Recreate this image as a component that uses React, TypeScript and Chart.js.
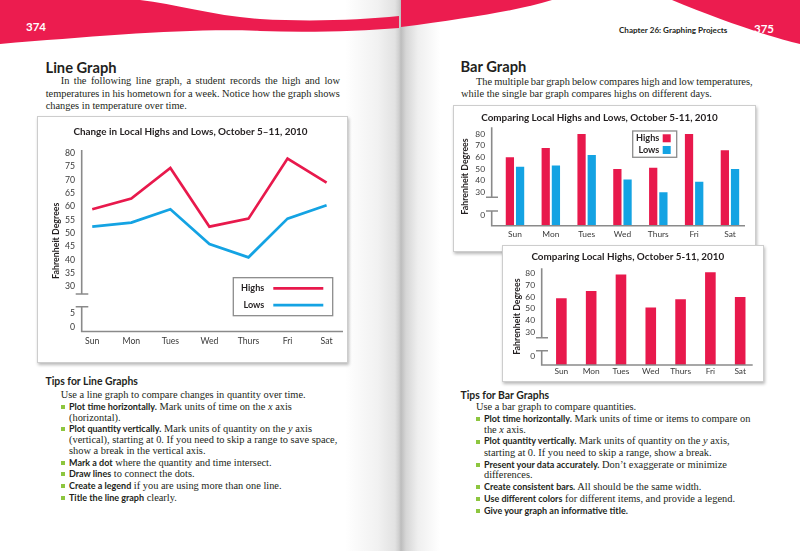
import React, { useEffect, useRef } from 'react';
import { Chart, registerables } from 'chart.js';

Chart.register(...registerables);

// ---------- data ----------
const days = ['Sun', 'Mon', 'Tues', 'Wed', 'Thurs', 'Fri', 'Sat'];
const seriesNames = ['Highs', 'Lows'];
const lineHighs = [59, 63, 74.5, 52.5, 55.5, 78, 69];
const lineLows = [52.5, 54, 59, 46, 41, 55.5, 60.5];
const lineTickLabels = [0, 5, 30, 35, 40, 45, 50, 55, 60, 65, 70, 75, 80];
const barHighs = [60, 68, 80, 50, 51, 80, 66];
const barLows = [52, 53, 62, 41, 30, 39, 50];
const singleHighs = [59, 65, 79, 51, 58, 81, 60];
const barTickLabels = [0, 30, 40, 50, 60, 70, 80];

// ---------- styles ----------
const PINK = '#e8194c';
const BLUE = '#14a3e3';
const WAVE = '#ec1c4f';
const INK = '#231f20';
const TICK = '#3a3a3a';
const AXIS = '#8a8a8a';
const GREEN = '#8dc63f';
const SANS = 'Lato, "Open Sans", sans-serif';
const SERIF = '"Liberation Serif", "Times New Roman", serif';

// axis break: values between lo and hi are squeezed into `shown` units
function makeBreak(lo: number, hi: number, shown: number) {
  return (v: number) =>
    v <= lo ? v : v >= hi ? v - (hi - lo - shown) : lo + ((v - lo) * shown) / (hi - lo);
}
const lineMap = makeBreak(5, 30, 10);
const barMap = makeBreak(0, 30, 20);

const axisBreakPlugin = {
  id: 'axisBreak',
  afterDatasetsDraw(chart: any, _args: any, o: any) {
    if (!o || o.upper === undefined) return;
    const { ctx, chartArea: a, scales } = chart;
    const hi = scales.y.getPixelForValue(o.upper);
    const lo = scales.y.getPixelForValue(o.lower);
    ctx.save();
    ctx.strokeStyle = o.color;
    ctx.lineWidth = o.width;
    ctx.beginPath();
    ctx.moveTo(a.left, a.top);
    ctx.lineTo(a.left, hi);
    ctx.moveTo(a.left, lo);
    ctx.lineTo(a.left, a.bottom);
    ctx.moveTo(a.left - o.width / 2, a.bottom);
    ctx.lineTo(a.right, a.bottom);
    ctx.moveTo(a.left - o.markLeft, hi);
    ctx.lineTo(a.left + o.markRight, hi);
    ctx.moveTo(a.left - o.markLeft, lo);
    ctx.lineTo(a.left + o.markRight, lo);
    ctx.stroke();
    ctx.restore();
  },
};

const boxLegendPlugin = {
  id: 'boxLegend',
  afterDraw(chart: any, _args: any, o: any) {
    if (!o || o.w === undefined) return;
    const { ctx, chartArea: a } = chart;
    const x0 = a.left + o.x;
    const y0 = a.top + o.y;
    ctx.save();
    ctx.fillStyle = '#ffffff';
    ctx.fillRect(x0, y0, o.w, o.h);
    ctx.strokeStyle = '#8c8c8c';
    ctx.lineWidth = 1.3;
    ctx.strokeRect(x0, y0, o.w, o.h);
    ctx.font = `bold ${o.font}px ${SANS}`;
    ctx.textAlign = 'right';
    ctx.textBaseline = 'middle';
    chart.data.datasets.forEach((ds: any, i: number) => {
      const ry = y0 + o.rows[i];
      ctx.fillStyle = INK;
      ctx.fillText(ds.label, x0 + o.textRight, ry);
      if (o.kind === 'line') {
        ctx.strokeStyle = ds.borderColor;
        ctx.lineWidth = ds.borderWidth;
        ctx.beginPath();
        ctx.moveTo(x0 + o.sx, ry);
        ctx.lineTo(x0 + o.sx + o.sw, ry);
        ctx.stroke();
      } else {
        ctx.fillStyle = ds.backgroundColor;
        ctx.fillRect(x0 + o.sx, ry - o.sw / 2, o.sw, o.sw);
      }
    });
    ctx.restore();
  },
};

function dayTicks(scale: any) {
  scale.ticks = days.map((_, i) => ({ value: i }));
}

function baseScales(opts: any) {
  const tickFont = { family: SANS, size: opts.tickSize };
  return {
    x: {
      type: 'linear',
      offset: false,
      min: opts.xMin,
      max: opts.xMax,
      grid: { display: false, drawTicks: false },
      border: { display: false },
      afterBuildTicks: dayTicks,
      afterFit: (s: any) => {
        s.height = opts.xHeight;
      },
      ticks: {
        autoSkip: false,
        maxRotation: 0,
        padding: opts.xPad,
        color: TICK,
        font: tickFont,
        callback: (_v: any, i: number) => days[i],
      },
    },
    y: {
      type: 'linear',
      min: opts.yMin,
      max: opts.yMax,
      grid: { display: false, drawTicks: false },
      border: { display: false },
      afterBuildTicks: (s: any) => {
        s.ticks = opts.tickLabels.map((v: number) => ({ value: opts.map(v) }));
      },
      afterFit: (s: any) => {
        s.width = opts.yWidth;
      },
      ticks: {
        autoSkip: false,
        padding: opts.yPad,
        color: TICK,
        font: tickFont,
        callback: (_v: any, i: number) => String(opts.tickLabels[i]),
      },
      title: {
        display: true,
        text: 'Fahrenheit Degrees',
        color: INK,
        font: { family: SANS, size: 8.8, weight: 'bold' },
        padding: { top: opts.yTitlePad, bottom: 0 },
      },
    },
  };
}

function lineConfig(): any {
  return {
    type: 'line',
    data: {
      datasets: [
        {
          label: seriesNames[0],
          data: lineHighs.map((v, i) => ({ x: i, y: lineMap(v) })),
          borderColor: PINK,
          borderWidth: 2.7,
          pointRadius: 0,
          tension: 0,
          borderJoinStyle: 'miter',
        },
        {
          label: seriesNames[1],
          data: lineLows.map((v, i) => ({ x: i, y: lineMap(v) })),
          borderColor: BLUE,
          borderWidth: 2.7,
          pointRadius: 0,
          tension: 0,
          borderJoinStyle: 'miter',
        },
      ],
    },
    options: {
      animation: false,
      responsive: false,
      devicePixelRatio: 1,
      events: [],
      layout: { padding: { left: 0, right: 4, top: 0, bottom: 0 } },
      plugins: {
        legend: { display: false },
        tooltip: { enabled: false },
        title: {
          display: true,
          text: 'Change in Local Highs and Lows, October 5\u201311, 2010',
          color: INK,
          font: { family: SANS, size: 9.9, weight: 'bold' },
          padding: { top: 9.1, bottom: 12 },
        },
        axisBreak: { upper: 12.26, lower: 7.5, color: AXIS, width: 1.6, markLeft: 6, markRight: 6.6 },
        boxLegend: { kind: 'line', x: 151.6, y: 127.7, w: 99.4, h: 38, textRight: 31, sx: 40, sw: 50, rows: [10.6, 27.5], font: 9.1 },
      },
      scales: baseScales({
        xMin: -0.27, xMax: 6.42, xHeight: 30.5, xPad: 4.9, tickSize: 8.7,
        yMin: -1.8, yMax: 66.24, yWidth: 43.7, yPad: 6.7, yTitlePad: 12.4,
        tickLabels: lineTickLabels, map: lineMap,
      }),
    },
    plugins: [axisBreakPlugin, boxLegendPlugin],
  };
}

function groupedBarConfig(): any {
  const yMin = -8.57;
  return {
    type: 'bar',
    data: {
      datasets: [
        {
          label: seriesNames[0],
          data: barHighs.map((v, i) => ({ x: i, y: barMap(v) })),
          backgroundColor: PINK,
          base: yMin,
          categoryPercentage: 0.569,
          barPercentage: 0.81,
        },
        {
          label: seriesNames[1],
          data: barLows.map((v, i) => ({ x: i, y: barMap(v) })),
          backgroundColor: BLUE,
          base: yMin,
          categoryPercentage: 0.569,
          barPercentage: 0.81,
        },
      ],
    },
    options: {
      animation: false,
      responsive: false,
      devicePixelRatio: 1,
      events: [],
      layout: { padding: { left: 0, right: 10, top: 0, bottom: 0 } },
      plugins: {
        legend: { display: false },
        tooltip: { enabled: false },
        title: {
          display: true,
          text: 'Comparing Local Highs and Lows, October 5-11, 2010',
          color: INK,
          font: { family: SANS, size: 9.9, weight: 'bold' },
          padding: { top: 5.4, bottom: 4 },
        },
        axisBreak: { upper: 15.8, lower: 4.0, color: AXIS, width: 1.6, markLeft: 5.7, markRight: 6.3 },
        boxLegend: { kind: 'box', x: 141, y: 3.7, w: 44, h: 26.3, textRight: 26.6, sx: 30, sw: 8, rows: [7.3, 19], font: 9.1 },
      },
      scales: baseScales({
        xMin: -0.65, xMax: 6.42, xHeight: 25.3, xPad: 3.6, tickSize: 8.4,
        yMin, yMax: 75.74, yWidth: 37.7, yPad: 6.7, yTitlePad: 5.7,
        tickLabels: barTickLabels, map: barMap,
      }),
    },
    plugins: [axisBreakPlugin, boxLegendPlugin],
  };
}

function singleBarConfig(): any {
  const yMin = -7.63;
  return {
    type: 'bar',
    data: {
      datasets: [
        {
          label: seriesNames[0],
          data: singleHighs.map((v, i) => ({ x: i, y: barMap(v) })),
          backgroundColor: PINK,
          base: yMin,
          categoryPercentage: 1,
          barPercentage: 0.356,
        },
      ],
    },
    options: {
      animation: false,
      responsive: false,
      devicePixelRatio: 1,
      events: [],
      layout: { padding: { left: 0, right: 10.3, top: 0, bottom: 0 } },
      plugins: {
        legend: { display: false },
        tooltip: { enabled: false },
        title: {
          display: true,
          text: 'Comparing Local Highs, October 5-11, 2010',
          color: INK,
          font: { family: SANS, size: 9.9, weight: 'bold' },
          padding: { top: 4.8, bottom: 5.6 },
        },
        axisBreak: { upper: 15.5, lower: 4.5, color: AXIS, width: 1.6, markLeft: 5.7, markRight: 6.3 },
      },
      scales: baseScales({
        xMin: -0.66, xMax: 6.42, xHeight: 16, xPad: 1.7, tickSize: 8.4,
        yMin, yMax: 74.3, yWidth: 38.7, yPad: 6.7, yTitlePad: 8.4,
        tickLabels: barTickLabels, map: barMap,
      }),
    },
    plugins: [axisBreakPlugin],
  };
}

function ChartCanvas({ make, width, height }: { make: () => any; width: number; height: number }) {
  const ref = useRef<HTMLCanvasElement>(null);
  useEffect(() => {
    const chart = new Chart(ref.current as HTMLCanvasElement, make());
    return () => chart.destroy();
  }, []);
  return <canvas ref={ref} width={width} height={height} style={{ display: 'block', width, height }} />;
}

function Box({ left, top, width, height, z, children }: any) {
  return (
    <div
      style={{
        position: 'absolute',
        left,
        top,
        width,
        height,
        border: '1px solid #cdcdcd',
        background: '#fff',
        boxShadow: '1px 2px 3px rgba(0,0,0,0.28)',
        zIndex: z,
      }}
    >
      {children}
    </div>
  );
}

function Ln({ x, y, size = 10.4, children }: any) {
  return (
    <div
      style={{
        position: 'absolute',
        left: x,
        top: y - 7.5,
        height: 14,
        lineHeight: '14px',
        whiteSpace: 'nowrap',
        fontFamily: SERIF,
        fontSize: size,
        color: INK,
      }}
    >
      {children}
    </div>
  );
}

// a fully justified single line: words spread across the given width
function JLn({ x, y, w, size = 10.4, text }: any) {
  return (
    <div
      style={{
        position: 'absolute',
        left: x,
        top: y - 7.5,
        height: 14,
        lineHeight: '14px',
        width: w,
        display: 'flex',
        justifyContent: 'space-between',
        whiteSpace: 'nowrap',
        fontFamily: SERIF,
        fontSize: size,
        color: INK,
      }}
    >
      {text.split(' ').map((word: string, i: number) => (
        <span key={i}>{word}</span>
      ))}
    </div>
  );
}

const B = ({ children }: any) => (
  <span style={{ fontFamily: SANS, fontWeight: 700, fontSize: 9 }}>{children}</span>
);
const I = ({ children }: any) => <i>{children}</i>;
const Dot = ({ x, y }: any) => (
  <div style={{ position: 'absolute', left: x, top: y - 2.2, width: 4.4, height: 4.4, background: GREEN }} />
);
const Head = ({ x, y, size, children }: any) => (
  <div
    style={{
      position: 'absolute',
      left: x,
      top: y - size * 0.7,
      lineHeight: `${size * 1.4}px`,
      height: size * 1.4,
      whiteSpace: 'nowrap',
      fontFamily: SANS,
      fontWeight: 700,
      fontSize: size,
      color: INK,
    }}
  >
    {children}
  </div>
);

export default function App() {
  return (
    <div
      style={{
        position: 'absolute',
        left: 0,
        top: 0,
        width: 800,
        height: 551,
        overflow: 'hidden',
        background:
          'linear-gradient(to right, #fff 0px, #fff 345px, #f1f1f1 378px, #e2e2e2 395px, #cfcfcf 399px, #bdbdbd 401px, #d6d6d6 406px, #efefef 418px, #fff 440px, #fff 800px)',
      }}
    >
      <svg width={800} height={60} style={{ position: 'absolute', left: 0, top: 0 }}>
        <path d="M0,0 L140,0 C175,4 215,16 260,19 C310,22 360,20 399,16 L399,28 C360,31 310,33 260,31 C190,28 100,36 0,44 Z" fill={WAVE} />
        <path d="M401,0 L552,0 C520,10 470,18 401,27 Z" fill={WAVE} />
        <path d="M672,0 L800,0 L800,44 C770,37 720,20 672,0 Z" fill={WAVE} />
      </svg>
      <div style={{ position: 'absolute', left: 26, top: 19, fontFamily: SANS, fontWeight: 700, fontSize: 11.5, color: '#fff', lineHeight: '16px' }}>374</div>
      <div style={{ position: 'absolute', left: 754, top: 21, fontFamily: SANS, fontWeight: 700, fontSize: 11.5, color: '#fff', lineHeight: '16px' }}>375</div>
      <div style={{ position: 'absolute', left: 619, top: 24, fontFamily: SANS, fontWeight: 700, fontSize: 8.1, color: INK, lineHeight: '12px', whiteSpace: 'nowrap' }}>
        Chapter 26: Graphing Projects
      </div>

      {/* Left page */}
      <Head x={45.5} y={67.7} size={14.7}>Line Graph</Head>
      <JLn x={60.7} y={81.7} w={279.3} text="In the following line graph, a student records the high and low" />
      <JLn x={45.7} y={94} w={294.3} text="temperatures in his hometown for a week. Notice how the graph shows" />
      <Ln x={45.7} y={106}>changes in temperature over time.</Ln>

      <Box left={37} top={116} width={309} height={245} z={1}>
        <ChartCanvas make={lineConfig} width={309} height={245} />
      </Box>

      <Head x={45.5} y={381.7} size={10.4}>Tips for Line Graphs</Head>
      <Ln x={60.7} y={395.7}>Use a line graph to compare changes in quantity over time.</Ln>
      <Dot x={61} y={407.3} />
      <Ln x={69} y={407.3}><B>Plot time horizontally.</B> Mark units of time on the <I>x</I> axis</Ln>
      <Ln x={69} y={418.3}>(horizontal).</Ln>
      <Dot x={61} y={429.3} />
      <Ln x={69} y={429.3}><B>Plot quantity vertically.</B> Mark units of quantity on the <I>y</I> axis</Ln>
      <Ln x={69} y={440.7}>(vertical), starting at 0. If you need to skip a range to save space,</Ln>
      <Ln x={69} y={451.7}>show a break in the vertical axis.</Ln>
      <Dot x={61} y={463.3} />
      <Ln x={69} y={463.3}><B>Mark a dot</B> where the quantity and time intersect.</Ln>
      <Dot x={61} y={474.3} />
      <Ln x={69} y={474.3}><B>Draw lines</B> to connect the dots.</Ln>
      <Dot x={61} y={486} />
      <Ln x={69} y={486}><B>Create a legend</B> if you are using more than one line.</Ln>
      <Dot x={61} y={498.3} />
      <Ln x={69} y={498.3}><B>Title the line graph</B> clearly.</Ln>

      {/* Right page */}
      <Head x={460.5} y={66.7} size={14.7}>Bar Graph</Head>
      <JLn x={476} y={82.7} w={276.7} text="The multiple bar graph below compares high and low temperatures," />
      <Ln x={461} y={94.3}>while the single bar graph compares highs on different days.</Ln>

      <Box left={453} top={105} width={301} height={145} z={1}>
        <ChartCanvas make={groupedBarConfig} width={301} height={145} />
      </Box>
      <Box left={502} top={245} width={260} height={135} z={2}>
        <ChartCanvas make={singleBarConfig} width={260} height={135} />
      </Box>

      <Head x={460.5} y={395} size={10.4}>Tips for Bar Graphs</Head>
      <Ln x={476} y={407.7}>Use a bar graph to compare quantities.</Ln>
      <Dot x={476} y={419.3} />
      <Ln x={484} y={419.3}><B>Plot time horizontally.</B> Mark units of time or items to compare on</Ln>
      <Ln x={484} y={430}>the <I>x</I> axis.</Ln>
      <Dot x={476} y={441.7} />
      <Ln x={484} y={441.7}><B>Plot quantity vertically.</B> Mark units of quantity on the <I>y</I> axis,</Ln>
      <Ln x={484} y={453.3}>starting at 0. If you need to skip a range, show a break.</Ln>
      <Dot x={476} y={465} />
      <Ln x={484} y={465}><B>Present your data accurately.</B> Don{'\u2019'}t exaggerate or minimize</Ln>
      <Ln x={484} y={475.7}>differences.</Ln>
      <Dot x={476} y={487.3} />
      <Ln x={484} y={487.3}><B>Create consistent bars.</B> All should be the same width.</Ln>
      <Dot x={476} y={499.3} />
      <Ln x={484} y={499.3}><B>Use different colors</B> for different items, and provide a legend.</Ln>
      <Dot x={476} y={511} />
      <Ln x={484} y={511}><B>Give your graph an informative title.</B></Ln>
    </div>
  );
}
